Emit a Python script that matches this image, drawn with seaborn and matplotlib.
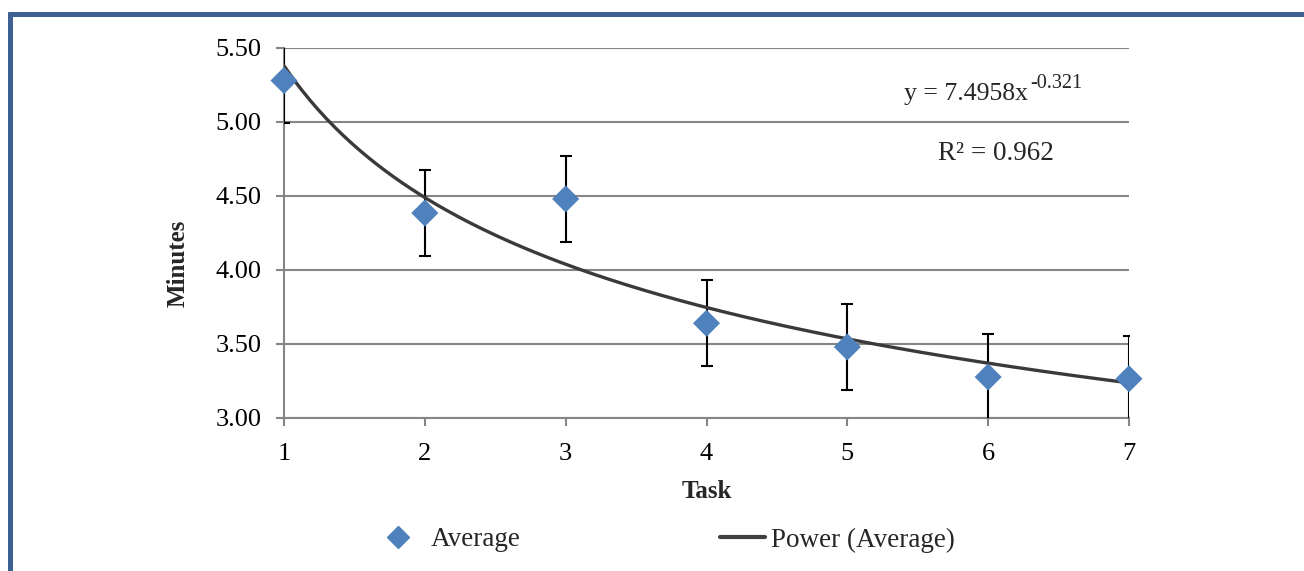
import numpy as np
import pandas as pd
import matplotlib
matplotlib.use("Agg")
import matplotlib.pyplot as plt
from matplotlib.lines import Line2D
import seaborn as sns

tasks = [1, 2, 3, 4, 5, 6, 7]
average = [5.28, 4.385, 4.48, 3.64, 3.48, 3.277, 3.265]
error = [0.29, 0.29, 0.29, 0.29, 0.29, 0.29, 0.29]
# trendline as drawn in the picture (coefficient / exponent)
curve_a = 5.38
curve_b = -0.261
eq_label = "y = 7.4958x"
eq_exp = "-0.321"
r2_label = "R² = 0.962"
y_ticks = [3.00, 3.50, 4.00, 4.50, 5.00, 5.50]

sns.set_style("white")
plt.rcParams['font.family'] = ['Liberation Serif', 'DejaVu Serif']

W, H = 1304, 571
fig = plt.figure(figsize=(W / 100, H / 100), dpi=100)
ax = fig.add_axes([284 / W, 1 - 418 / H, (1129 - 284) / W, (418 - 48) / H])

grid_col = '#868686'
blue = '#4F81BD'
curve_col = '#3a3a3a'

xs = np.linspace(1, 7, 200)
curve = pd.DataFrame({'x': xs, 'y': curve_a * xs ** curve_b})
df = pd.DataFrame({'Task': tasks, 'Average': average, 'err': error})

ax.errorbar(df['Task'], df['Average'], yerr=df['err'], fmt='none',
            ecolor='black', elinewidth=1.5, capsize=4, capthick=1.5, zorder=3)
sns.lineplot(data=curve, x='x', y='y', ax=ax, color=curve_col, linewidth=2.4,
             zorder=4, legend=False)
sns.scatterplot(data=df, x='Task', y='Average', ax=ax, marker='D', s=190,
                color=blue, edgecolor='none', zorder=5, legend=False)
ax.collections[-1].set_clip_on(False)

ax.set_xlim(1, 7)
ax.set_ylim(3.0, 5.5)
ax.set_yticks(y_ticks)
ax.set_yticklabels([f"{v:.2f}" for v in y_ticks])
ax.set_xticks(tasks)
ax.set_xticklabels([str(t) for t in tasks])
ax.yaxis.grid(True, color=grid_col, linewidth=1.5)
ax.xaxis.grid(False)
ax.set_axisbelow(True)
for s in ['top', 'right']:
    ax.spines[s].set_visible(False)
for s in ['left', 'bottom']:
    ax.spines[s].set_color(grid_col)
    ax.spines[s].set_linewidth(1.5)
ax.tick_params(axis='both', which='both', direction='out', length=6, width=1.5,
               color=grid_col, labelsize=19, labelcolor='black', left=True, bottom=True)
ax.tick_params(axis='x', pad=12)
ax.tick_params(axis='y', pad=10)

ax.set_xlabel('Task', fontsize=18, fontweight='bold')
ax.set_ylabel('Minutes', fontsize=18, fontweight='bold')
ax.xaxis.set_label_coords(0.5006, -(491 - 418) / 370)
ax.xaxis.label.set_va('center')
ax.yaxis.set_label_coords((178 - 284) / 845, (418 - 263) / 370)
ax.yaxis.label.set_va('center')
ax.yaxis.label.set_ha('center')

fig.text(1028 / W, 1 - 100 / H, eq_label, fontsize=18.5, ha='right', va='baseline')
fig.text(1030 / W, 1 - 88 / H, eq_exp, fontsize=14.5, ha='left', va='baseline')
fig.text(996 / W, 1 - 153 / H, r2_label, fontsize=19.5, ha='center', va='center')

leg_fs = 19.5
h1 = Line2D([], [], marker='D', color=blue, linestyle='none', markersize=11)
h2 = Line2D([], [], color='#404040', linewidth=3)
leg1 = fig.legend([h1], ['Average'], loc='center left',
                  bbox_to_anchor=(384 / W, 1 - 540 / H), frameon=False,
                  fontsize=leg_fs, handlelength=1.0, handletextpad=0.72,
                  borderpad=0, borderaxespad=0)
leg2 = fig.legend([h2], ['Power (Average)'], loc='center left',
                  bbox_to_anchor=(720 / W, 1 - 540 / H), frameon=False,
                  fontsize=leg_fs, handlelength=1.67, handletextpad=0.2,
                  borderpad=0, borderaxespad=0)

border = '#3D6190'
fig.add_artist(Line2D([7.5 / W, 1], [1 - 14 / H, 1 - 14 / H], color=border,
                      linewidth=3.6, transform=fig.transFigure, solid_capstyle='butt'))
fig.add_artist(Line2D([10 / W, 10 / W], [0, 1 - 11.5 / H], color=border,
                      linewidth=3.6, transform=fig.transFigure, solid_capstyle='butt'))

fig.savefig('out.png', dpi=100, facecolor='white')
